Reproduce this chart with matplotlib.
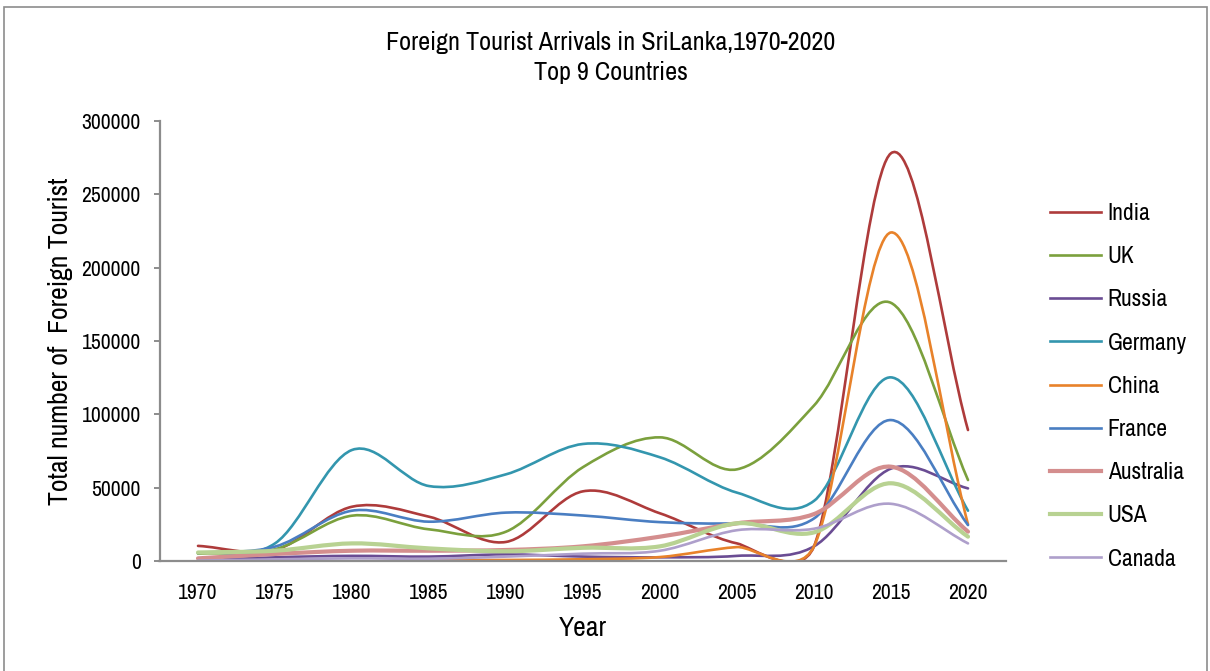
import numpy as np
import matplotlib
matplotlib.use('Agg')
import matplotlib.pyplot as plt
from matplotlib.path import Path
from matplotlib.patches import PathPatch, Rectangle
from matplotlib.lines import Line2D

plt.rcParams['font.family'] = ['Archivo Narrow', 'DejaVu Sans']

years = [1970, 1975, 1980, 1985, 1990, 1995, 2000, 2005, 2010, 2015, 2020]

india = [10300, 7500, 37000, 30200, 13000, 47500, 32500, 12000, 10000, 278000, 89300]
uk = [5000, 8000, 30900, 21600, 20000, 64000, 84300, 62500, 106000, 176000, 55200]
russia = [300, 2500, 3500, 3000, 4500, 3000, 2500, 3500, 10000, 63000, 49500]
germany = [5500, 12000, 75700, 51100, 59100, 79800, 70700, 46600, 41000, 125200, 34300]
china = [None, None, None, 500, 700, 1200, 2700, 9500, 10000, 224000, 25000]
france = [5500, 9800, 34300, 26800, 33000, 31000, 26500, 25700, 29000, 96100, 24500]
australia = [1800, 4800, 7000, 7000, 7500, 10000, 16600, 25700, 32000, 64300, 20000]
usa = [5800, 7000, 12000, 8600, 6600, 9000, 10000, 25700, 19500, 53000, 16600]
canada = [300, 1100, 1800, 1500, 3000, 5000, 7000, 21000, 22000, 39000, 12000]

names = ['India', 'UK', 'Russia', 'Germany', 'China', 'France', 'Australia', 'USA', 'Canada']
values = [india, uk, russia, germany, china, france, australia, usa, canada]
colors = ['#AE3B3B', '#7BA03D', '#6A4C93', '#3396AE', '#E8822A', '#4A7EC2',
          '#D48E8E', '#B8D292', '#AE9FCB']
widths = [1.9, 1.9, 1.9, 1.9, 1.9, 1.9, 3.0, 3.0, 1.9]


def excel_smooth(ax, xs, ys):
    """Bezier path built like Excel's 'smoothed line' (in screen pixels)."""
    pts = ax.transData.transform(np.column_stack([xs, ys]))
    n = len(pts)
    verts = [pts[0]]
    codes = [Path.MOVETO]
    for i in range(n - 1):
        p1, p2 = pts[i], pts[i + 1]
        p0 = pts[i - 1] if i > 0 else p1
        p3 = pts[i + 2] if i + 2 < n else p2
        d12 = np.hypot(*(p2 - p1))
        d02 = np.hypot(*(p2 - p0))
        d13 = np.hypot(*(p3 - p1))
        if d02 / 6 < d12 / 2 and d13 / 6 < d12 / 2:
            f1 = 1 / 6 if i > 0 else 1 / 3
            f2 = 1 / 6 if i + 2 < n else 1 / 3
            b1 = p1 + (p2 - p0) * f1
            b2 = p2 - (p3 - p1) * f2
        elif d02 / 6 >= d12 / 2 and d13 / 6 >= d12 / 2:
            b1 = p1 + (p2 - p0) * d12 / 2 / d02
            b2 = p2 - (p3 - p1) * d12 / 2 / d13
        elif d02 / 6 >= d12 / 2:
            b1 = p1 + (p2 - p0) * d12 / 2 / d02
            b2 = p2 - (p3 - p1) * d12 / 2 / d02
        else:
            b1 = p1 + (p2 - p0) * d12 / 2 / d13
            b2 = p2 - (p3 - p1) * d12 / 2 / d13
        verts += [b1, b2, p2]
        codes += [Path.CURVE4] * 3
    return Path(ax.transData.inverted().transform(np.array(verts)), codes)


fig = plt.figure(figsize=(12.1, 6.71), dpi=100)
fig.patches.append(Rectangle((4 / 1210, -0.05), 1203 / 1210, 1.05 - 7 / 671,
                             transform=fig.transFigure, fill=False,
                             edgecolor='#8C8C8C', lw=1.2))

ax = fig.add_axes([159.5 / 1210, 110 / 671, 847 / 1210, 440 / 671])
ax.set_xlim(1967.5, 2022.5)
ax.set_ylim(0, 300000)

for name, vals, col, lw in zip(names, values, colors, widths):
    xs = [x for x, v in zip(years, vals) if v is not None]
    ys = [v for v in vals if v is not None]
    ax.add_patch(PathPatch(excel_smooth(ax, xs, ys), fill=False, edgecolor=col,
                           lw=lw, capstyle='round', joinstyle='round'))

for s in ['top', 'right']:
    ax.spines[s].set_visible(False)
for s in ['left', 'bottom']:
    ax.spines[s].set_color('#8C8C8C')
    ax.spines[s].set_linewidth(1.6)

ax.set_xticks(years)
ax.set_xticklabels([str(y) for y in years])
ax.set_yticks(np.arange(0, 300001, 50000))
ax.set_yticklabels([str(v) for v in range(0, 300001, 50000)])
ax.tick_params(axis='x', length=0, pad=16, labelsize=15.5)
ax.tick_params(axis='y', length=4.5, width=1.4, color='#8C8C8C', pad=9, labelsize=15.5)

ax.set_xlabel('Year', fontsize=20)
ax.xaxis.set_label_coords(0.5, -0.126)
ax.set_ylabel('Total number of  Foreign Tourist', fontsize=20)
ax.yaxis.set_label_coords(-0.102, 0.5)

fig.text(611 / 1210, 1 - 43 / 671, 'Foreign Tourist Arrivals in SriLanka,1970-2020',
         ha='center', va='center', fontsize=18.8)
fig.text(611 / 1210, 1 - 73 / 671, 'Top 9 Countries', ha='center', va='center', fontsize=18.8)

handles = [Line2D([0], [0], color=c, lw=lw) for c, lw in zip(colors, widths)]
ax.legend(handles, names, loc='upper left', bbox_to_anchor=(1050 / 1210, 1 - 203 / 671),
          bbox_transform=fig.transFigure, frameon=False, fontsize=17,
          borderpad=0, borderaxespad=0,
          handlelength=2.15, handletextpad=0.3, labelspacing=0.94)

fig.savefig('out.png', dpi=100)
